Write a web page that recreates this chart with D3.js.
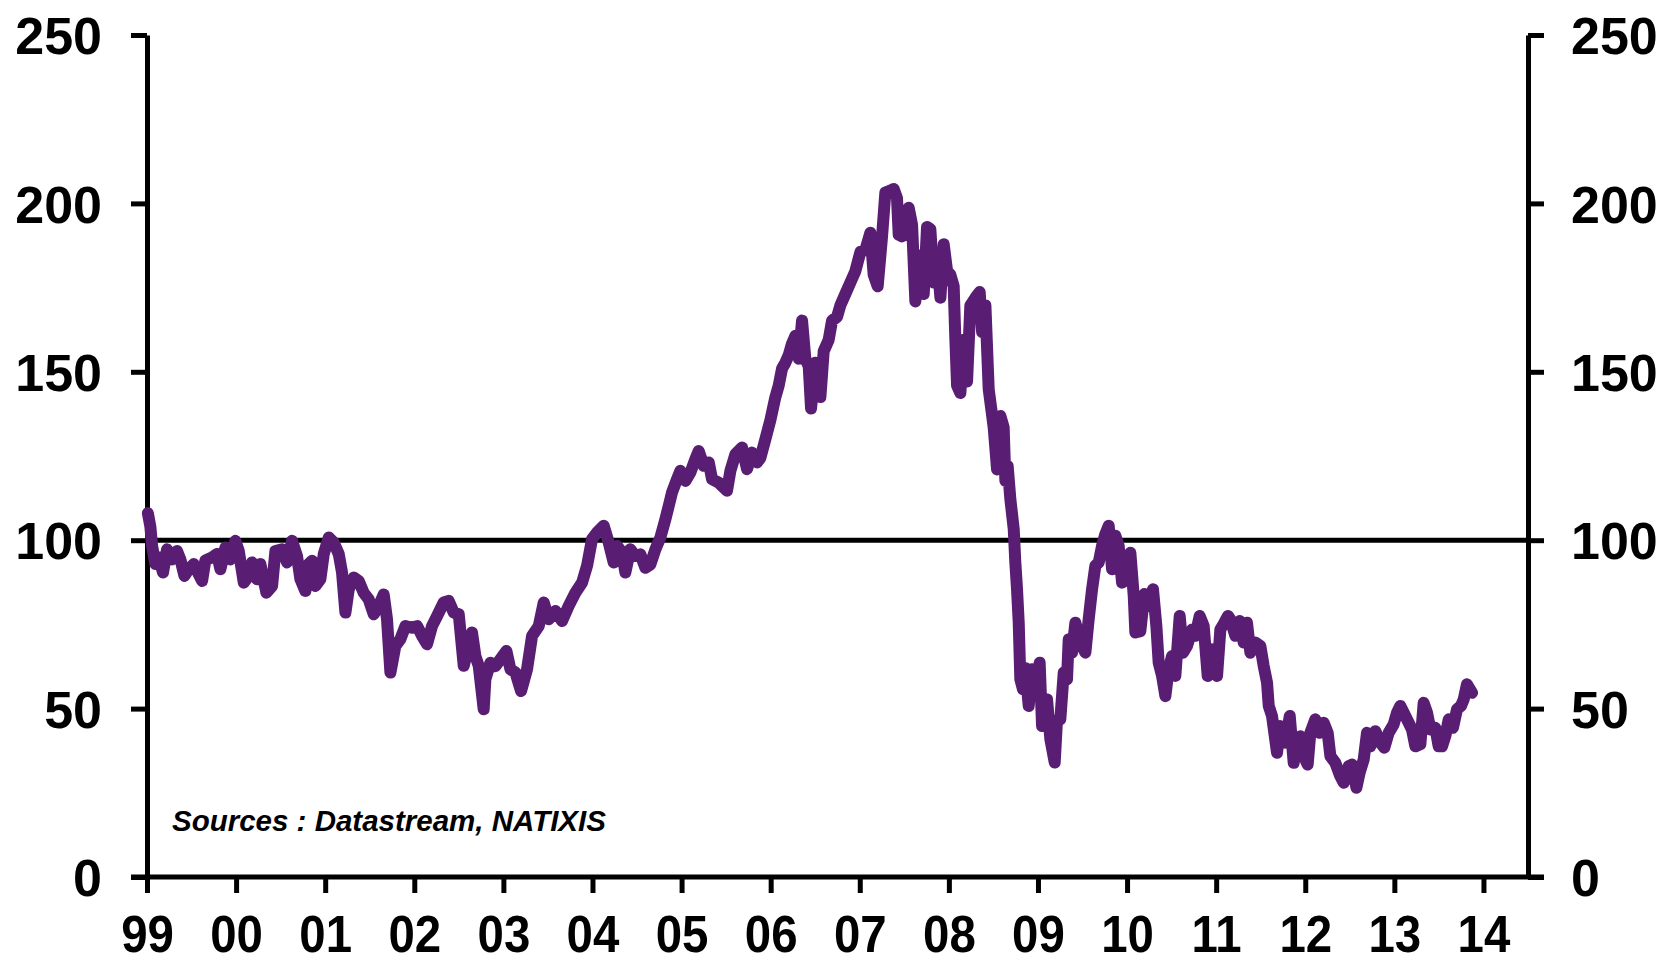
<!DOCTYPE html>
<html>
<head>
<meta charset="utf-8">
<script src="https://cdn.jsdelivr.net/npm/d3@7"></script>
<style>
  html, body { margin: 0; padding: 0; background: #fff; }
  svg { display: block; }
</style>
</head>
<body>
<svg id="chart" width="1666" height="963"></svg>
<script>
// ---- DATA ----
const dates = [
  1999.010,1999.038,1999.057,1999.094,1999.132,1999.180,1999.225,1999.281,1999.337,1999.375,
  1999.420,1999.468,1999.524,1999.581,1999.618,1999.655,1999.730,1999.786,1999.824,1999.880,
  1999.936,1999.992,2000.030,2000.086,2000.142,2000.179,2000.235,2000.273,2000.340,2000.404,
  2000.441,2000.516,2000.572,2000.628,2000.684,2000.722,2000.778,2000.815,2000.853,2000.890,
  2000.946,2000.984,2001.040,2001.096,2001.152,2001.189,2001.227,2001.264,2001.320,2001.376,
  2001.432,2001.489,2001.545,2001.601,2001.657,2001.694,2001.732,2001.788,2001.844,2001.900,
  2001.975,2002.031,2002.087,2002.143,2002.199,2002.256,2002.330,2002.386,2002.443,2002.499,
  2002.555,2002.592,2002.648,2002.686,2002.723,2002.779,
  2002.798,2002.854,2002.910,2002.966,2003.034,2003.079,2003.135,2003.198,2003.266,2003.322,
  2003.397,2003.453,2003.509,2003.584,2003.658,2003.733,2003.808,2003.883,2003.939,2003.995,
  2004.051,2004.126,2004.182,2004.238,2004.276,2004.332,2004.369,2004.425,2004.481,2004.538,
  2004.594,2004.650,2004.706,2004.762,2004.818,2004.856,2004.893,2004.949,2004.987,2005.043,
  2005.099,2005.155,2005.192,2005.248,2005.305,2005.342,2005.417,2005.510,2005.548,2005.604,
  2005.679,2005.735,2005.791,2005.847,
  2005.884,2005.941,2005.997,2006.053,2006.090,2006.128,2006.165,2006.203,2006.240,2006.277,
  2006.315,2006.352,2006.389,2006.427,2006.453,2006.502,2006.558,2006.595,2006.651,2006.689,
  2006.745,2006.782,2006.838,2006.894,2006.951,2007.007,2007.063,2007.119,2007.156,2007.201,
  2007.250,2007.287,2007.343,2007.381,2007.418,2007.437,2007.474,2007.512,2007.549,2007.587,
  2007.624,2007.662,2007.718,2007.755,2007.792,2007.830,2007.867,2007.905,2007.942,2007.980,
  2008.017,2008.054,2008.073,2008.092,2008.129,2008.166,2008.204,2008.241,2008.298,2008.346,
  2008.373,2008.410,2008.447,2008.503,2008.541,2008.578,2008.615,2008.634,2008.660,
  2008.690,2008.728,2008.746,2008.765,2008.784,2008.802,2008.832,2008.859,2008.896,2008.933,
  2008.971,2009.019,2009.046,2009.102,2009.139,2009.188,2009.214,2009.251,2009.289,2009.326,
  2009.345,2009.382,2009.420,2009.476,2009.532,2009.569,2009.607,2009.644,2009.682,2009.719,
  2009.756,2009.794,2009.831,2009.869,2009.906,2009.944,2009.981,2010.037,2010.075,2010.093,
  2010.149,2010.194,2010.243,2010.291,2010.329,2010.355,2010.393,2010.430,2010.467,2010.505,
  2010.542,2010.591,2010.628,2010.673,2010.729,2010.766,2010.815,2010.860,2010.905,2010.954,
  2011.010,2011.047,2011.092,2011.133,
  2011.159,2011.215,2011.264,2011.309,2011.346,2011.384,2011.440,2011.496,2011.533,2011.571,
  2011.590,2011.627,2011.683,2011.721,2011.777,2011.826,2011.870,2011.908,2011.945,2011.983,
  2012.027,2012.057,2012.113,2012.162,2012.207,2012.252,2012.282,2012.338,2012.394,2012.432,
  2012.488,2012.525,2012.574,2012.611,2012.656,2012.693,2012.731,2012.787,2012.843,2012.888,
  2012.936,2012.992,2013.030,2013.067,2013.105,2013.142,2013.198,2013.236,2013.292,2013.329,
  2013.367,2013.404,2013.460,2013.497,2013.535,2013.572,2013.610,2013.658,2013.703,2013.748,
  2013.778,2013.815,2013.872
];
const values = [
  108,104,98.3,92.9,94.9,90.4,97.3,94.3,96.8,94.3,
  89.4,91.4,92.9,89.9,87.9,94,94.9,95.9,91.4,97.8,
  94.3,99.8,96.8,87.4,89.4,93.4,88.4,92.9,84.4,86.4,
  96.8,97.3,93.4,99.8,95.3,88.4,84.9,92.9,93.9,86.4,
  88.4,95.9,100.8,99.3,95.9,90.4,78.5,85.4,88.9,87.9,
  84.4,82.4,78,80.5,83.9,76.5,60.7,68.6,70.6,74.5,
  74,74.5,71.6,69.1,74.5,77.5,81.5,82,78.5,78,
  62.7,66.6,72.6,65.6,62.7,49.8,
  58.7,63.6,62.6,64.6,67.1,61.7,60.7,55.2,61.7,71.6,
  74.5,81.5,76.5,79,76,80.5,84.4,87.4,92.4,100.3,
  102.3,104.3,99.3,93.4,98.3,96.3,90.4,97.3,95.3,95.8,
  91.8,92.8,97.3,100.8,106.2,110.2,114.2,118.1,120.6,117.6,
  120.1,124.1,126.5,122.1,123.1,118.1,117.1,114.7,120.6,125.5,
  127.5,121.1,126,123.1,
  124.4,130,135.7,142.5,145.9,151,152.7,155,158.4,160.7,
  153.9,165.2,153.9,151.6,139.1,152.7,142.5,156.1,159.5,165.2,
  166.3,169.7,173.1,176.5,179.9,185.6,186.2,191.3,178.8,175.4,
  190.2,203.2,203.8,204.3,201.5,190.7,190.2,197,198.7,193.6,
  170.9,184.5,173.1,193,192.4,176.5,184.5,172,187.9,179.9,
  178.8,175.4,159.5,145.9,143.7,159.5,147.1,169.7,172,173.7,
  161.8,169.7,144.8,133.5,121,136.9,133.5,117.6,122,
  112.2,103.3,93.4,85.4,75.5,58.7,55.7,62,50.8,61.7,
  54.7,63.6,44.8,52.7,40.9,34,46.8,46.8,60.7,58.7,
  70.6,66.6,75.5,69.6,66.6,76.5,85.4,92.4,93.4,98.3,
  101.8,104.3,91.4,101.3,98.3,87.4,93.4,96.3,83.4,72.6,
  73,84,80.5,85.4,74.5,63.6,59.7,53.7,61.7,65.6,
  59.7,77.5,66.6,68.6,73.5,71.6,77.5,74.5,59.7,67.6,
  59.7,73.5,75.5,77.5,
  76.5,71.6,76,69.6,75.5,66.6,69.6,68.6,62.7,57.7,
  50.8,47.8,36.9,44.8,39.9,47.8,33.9,40.9,41.8,35.9,
  33.4,42.8,46.8,42.8,45.8,42.8,35.9,33.9,29.9,28,
  32.9,33.4,26.5,31,34.9,42.8,38.8,43.3,39.9,38.4,
  42.8,45.3,48.8,50.8,48.8,46.8,43.8,38.8,39.4,51.7,
  48.8,43.8,44.3,38.8,38.8,41.8,46.8,44.3,49.8,50.8,
  52.7,57.2,54.7
];
const yTicks = [0, 50, 100, 150, 200, 250];
const xTickYears = [1999,2000,2001,2002,2003,2004,2005,2006,2007,2008,2009,2010,2011,2012,2013,2014];
const xTickLabels = ["99","00","01","02","03","04","05","06","07","08","09","10","11","12","13","14"];
const referenceLevel = 100;
const sourceNote = "Sources : Datastream, NATIXIS";

// ---- LAYOUT ----
const svg = d3.select("#chart");
const plotLeft = 147, plotRight = 1528, plotTop = 35, plotBottom = 877;
const x = d3.scaleLinear().domain([1999, 2014.5]).range([plotLeft, plotRight]);
const y = d3.scaleLinear().domain([0, 250]).range([plotBottom, plotTop]);
const fontFamily = "'Liberation Sans', Arial, Helvetica, sans-serif";
const axisStroke = 5;

function styleAxis(g, size) {
  g.selectAll("path.domain").attr("stroke", "#000").attr("stroke-width", axisStroke);
  g.selectAll(".tick line").attr("stroke", "#000").attr("stroke-width", axisStroke);
  g.selectAll(".tick text")
    .attr("fill", "#000")
    .style("font-family", fontFamily)
    .style("font-weight", "bold")
    .style("font-size", size + "px");
}

// reference line at 100
svg.append("line")
  .attr("x1", plotLeft).attr("x2", plotRight)
  .attr("y1", y(referenceLevel)).attr("y2", y(referenceLevel))
  .attr("stroke", "#000").attr("stroke-width", axisStroke);

// left axis
const gL = svg.append("g").attr("transform", `translate(${plotLeft},0)`)
  .call(d3.axisLeft(y).tickValues(yTicks).tickFormat(d3.format("d")).tickSize(16).tickSizeOuter(0).tickPadding(29));
styleAxis(gL, 52);
gL.selectAll(".tick text").attr("dy", "0.36em");

// right axis
const gR = svg.append("g").attr("transform", `translate(${plotRight},0)`)
  .call(d3.axisRight(y).tickValues(yTicks).tickFormat(d3.format("d")).tickSize(16).tickSizeOuter(0).tickPadding(27));
styleAxis(gR, 52);
gR.selectAll(".tick text").attr("dy", "0.36em");

// bottom axis
const gB = svg.append("g").attr("transform", `translate(0,${plotBottom})`)
  .call(d3.axisBottom(x).tickValues(xTickYears).tickFormat((d, i) => xTickLabels[i]).tickSize(16).tickSizeOuter(0).tickPadding(23));
styleAxis(gB, 51);
gB.selectAll(".tick text").attr("transform", "scale(0.93,1)");
gB.select("path.domain").attr("d", `M${plotLeft - 16},0H${plotRight + 16}`);

// series line
const line = d3.line()
  .x(i => x(dates[i]))
  .y(i => y(values[i]));
svg.append("path")
  .attr("d", line(d3.range(dates.length)))
  .attr("fill", "none")
  .attr("stroke", "#591e73")
  .attr("stroke-width", 12)
  .attr("stroke-linejoin", "round")
  .attr("stroke-linecap", "round");

// source note
svg.append("text")
  .attr("x", 172).attr("y", 831)
  .style("font-family", fontFamily)
  .style("font-weight", "bold")
  .style("font-style", "italic")
  .style("font-size", "29.5px")
  .attr("fill", "#000")
  .text(sourceNote);
</script>
</body>
</html>
